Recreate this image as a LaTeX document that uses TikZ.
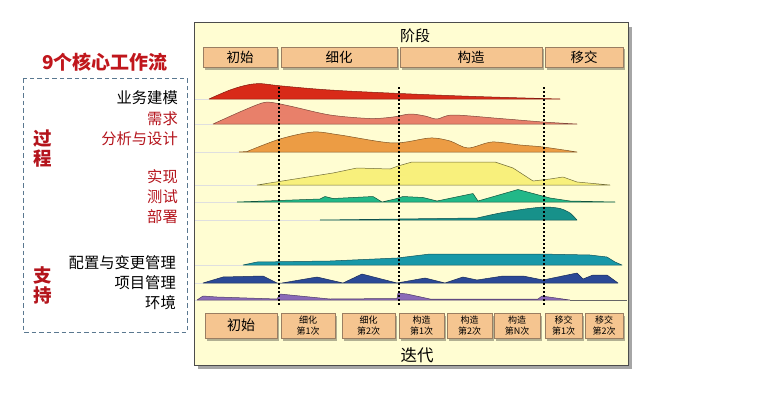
\documentclass[tikz,border=0pt]{standalone}
\usepackage{fontspec}
\setmainfont{Noto Sans CJK SC}
\usetikzlibrary{shadows}
\definecolor{panelbg}{HTML}{FFFDD2}
\definecolor{boxfill}{HTML}{F5C590}
\definecolor{boxline}{HTML}{9A7E62}
\definecolor{darkred}{HTML}{B4141C}
\definecolor{titlered}{HTML}{C0161C}
\definecolor{dashblue}{HTML}{5A7890}
\definecolor{cRed}{HTML}{D82A18}
\definecolor{cSalmon}{HTML}{E8806A}
\definecolor{cOrange}{HTML}{EC9C44}
\definecolor{cYellow}{HTML}{F8F07C}
\definecolor{cGreen}{HTML}{22B888}
\definecolor{cTeal}{HTML}{17918A}
\definecolor{cTealBlue}{HTML}{1898A8}
\definecolor{cBlue}{HTML}{2B4996}
\definecolor{cPurple}{HTML}{8A6AB8}
\begin{document}
\begin{tikzpicture}[x=1pt,y=-1pt,
  phasebox/.style={draw=boxline, fill=boxfill, line width=0.8pt, minimum height=20pt, inner sep=0pt,
     font=\fontsize{13.5}{15}\selectfont, drop shadow={shadow xshift=2pt, shadow yshift=-2.5pt, fill=black, opacity=0.3}},
  iterbox/.style={draw=boxline, fill=boxfill, line width=0.8pt, minimum height=25pt, inner sep=0pt, align=center,
     font=\fontsize{9}{11.5}\selectfont, drop shadow={shadow xshift=2pt, shadow yshift=-2.5pt, fill=black, opacity=0.3}},
  wflabel/.style={anchor=east, inner sep=0pt, font=\fontsize{15.3}{17}\selectfont},
  grouplabel/.style={inner sep=0pt, text=darkred, font=\fontsize{18.5}{20}\selectfont\bfseries},
  hump/.style={line width=0.5pt, line join=round},
  faint/.style={draw=gray!25, line width=0.5pt},
  phasedots/.style={line width=1.7pt, dash pattern=on 1.7pt off 2.3pt, draw=black}
]
\useasboundingbox (0,0) rectangle (770,396);

% ---------- left: workflow list ----------
\node[inner sep=0pt, text=titlered, font=\fontsize{19}{21}\selectfont\bfseries] (title) at (105,62) {9个核心工作流};
\draw[dashblue, line width=1pt, dash pattern=on 4.5pt off 3pt] (23,78) rectangle (187,332);
\node[grouplabel] (guo) at (43,139) {过};
\node[grouplabel] (cheng) at (43,159) {程};
\node[grouplabel] (zhi) at (43,275) {支};
\node[grouplabel] (chi) at (43,295) {持};

\node[wflabel] (w1) at (178,98) {业务建模};
\node[wflabel, text=darkred] (w2) at (178,119) {需求};
\node[wflabel, text=darkred] (w3) at (178,139) {分析与设计};
\node[wflabel, text=darkred] (w4) at (178,177) {实现};
\node[wflabel, text=darkred] (w5) at (178,197) {测试};
\node[wflabel, text=darkred] (w6) at (178,217) {部署};
\node[wflabel] (w7) at (176,263) {配置与变更管理};
\node[wflabel] (w8) at (176,283) {项目管理};
\node[wflabel] (w9) at (176,303) {环境};

% ---------- panel ----------
\node[draw=black!70, fill=panelbg, line width=1pt, minimum width=434pt, minimum height=342pt, inner sep=0pt,
      drop shadow={shadow xshift=4pt, shadow yshift=-4pt, fill=black, opacity=0.35}] (panel) at (411,194) {};
\node[inner sep=0pt, font=\fontsize{15}{17}\selectfont] (jieduan) at (415,36) {阶段};
\node[inner sep=0pt, font=\fontsize{16.5}{18}\selectfont] (diedai) at (417,355) {迭代};

% phase boxes
\node[phasebox, minimum width=74pt]  (p1) at (240,57) {初始};
\node[phasebox, minimum width=116pt] (p2) at (339,57) {细化};
\node[phasebox, minimum width=142pt] (p3) at (471,57) {构造};
\node[phasebox, minimum width=78pt]  (p4) at (584,57) {移交};

% iteration boxes
\node[iterbox, minimum width=72pt, font=\fontsize{14}{15}\selectfont] (i1) at (241,325.5) {初始};
\node[iterbox, minimum width=54pt] (i2) at (308,325.5) {细化\\第1次};
\node[iterbox, minimum width=53pt] (i3) at (368.5,325.5) {细化\\第2次};
\node[iterbox, minimum width=45pt] (i4) at (421.5,325.5) {构造\\第1次};
\node[iterbox, minimum width=45pt] (i5) at (469.5,325.5) {构造\\第2次};
\node[iterbox, minimum width=46pt] (i6) at (517,325.5) {构造\\第N次};
\node[iterbox, minimum width=37pt] (i7) at (563.5,325.5) {移交\\第1次};
\node[iterbox, minimum width=38pt] (i8) at (604,325.5) {移交\\第2次};

% faint baselines
\foreach \yy/\xe in {99/209,124/213,152/239,185/257,202/237,220/320,265/243,283/203,300/197}
  \draw[faint] (195,\yy) -- (\xe,\yy);

% ---------- humps ----------
% 业务建模
\draw[hump, fill=cRed, draw=cRed!60!black] (209,99) -- plot[smooth, tension=0.6] coordinates
  {(209,99) (230,90) (248,84.8) (262,83.7) (280,85.8) (330,90) (400,93.5) (470,96.3) (543,98.5)} -- (560,99) -- cycle;
% 需求
\draw[hump, fill=cSalmon, draw=cSalmon!55!black] (213,124) -- plot[smooth, tension=0.5] coordinates
  {(213,124) (242,111) (262,103) (272,102.5) (292,106.5) (330,115) (370,118.5) (393,117) (410,114) (425,116) (437,119) (453,115) (500,118.5) (543,122) (577,124)} -- cycle;
% 分析与设计
\draw[hump, fill=cOrange, draw=cOrange!55!black] (239,152) -- plot[smooth, tension=0.5] coordinates
  {(247,151.5) (280,139) (313,132) (340,135) (393,143) (430,138) (450,141) (468,148) (492,142) (520,145) (543,147) (577,152)} -- cycle;
% 实现
\draw[hump, fill=cYellow, draw=cYellow!45!black] (257,185) -- (333,173) -- (357,168) -- (390,169) -- (398,166) -- (412,162) -- (495,162) -- (513,168) -- (533,181) -- (550,179) -- (563,177) -- (577,182) -- (610,185) -- cycle;
% 测试
\draw[hump, fill=cGreen, draw=cGreen!45!black] (237,202) -- (320,199) -- (325,196.5) -- (333,198.5) -- (373,196.5) -- (382,202) -- (395,199) -- (403,196.5) -- (423,197.5) -- (437,201) -- (473,193.5) -- (478,201) -- (518,189.5) -- (550,198) -- (570,201) -- (615,202) -- cycle;
% 部署
\draw[hump, fill=cTeal, draw=cTeal!55!black] (320,220) -- (477,218) -- plot[smooth, tension=0.5] coordinates
  {(477,218) (500,213) (525,209) (545,207) (560,208.5) (570,213) (576,219)} -- (577,220) -- cycle;
% 配置与变更管理
\draw[hump, fill=cTealBlue, draw=cTealBlue!55!black] (243,265) -- (257,262) -- (330,261) -- (397,258) -- (430,254) -- (540,254) -- (590,255) -- (607,257) -- (615,262) -- (622,265) -- cycle;
% 项目管理
\draw[hump, fill=cBlue, draw=cBlue!60!black] (203,283) -- (223,277) -- (263,276) -- (277,283) -- (282,283) -- (317,277) -- (343,283) -- (362,274) -- (397,283) -- (425,278) -- (445,283) -- (463,277) -- (477,280) -- (503,276) -- (523,276) -- (543,280) -- (577,273) -- (583,279) -- (593,275) -- (607,275) -- (618,283) -- cycle;
% 环境
\draw[hump, fill=cPurple, draw=cPurple!55!black] (197,300) -- (203,296) -- (217,297) -- (277,299) -- (280,294) -- (330,299) -- (397,298.5) -- (398,293) -- (407,294) -- (430,299) -- (538,299) -- (542,296) -- (570,300) -- cycle;
\draw[line width=0.6pt, draw=black!60] (570,300) -- (627,300);

% ---------- phase boundaries ----------
\coordinate (d1t) at (279,87);  \coordinate (d1b) at (279,306);
\coordinate (d2t) at (399,87);  \coordinate (d2b) at (399,306);
\coordinate (d3t) at (544,87);  \coordinate (d3b) at (544,306);
\draw[phasedots] (d1t) -- (d1b);
\draw[phasedots] (d2t) -- (d2b);
\draw[phasedots] (d3t) -- (d3b);
\end{tikzpicture}
\end{document}
